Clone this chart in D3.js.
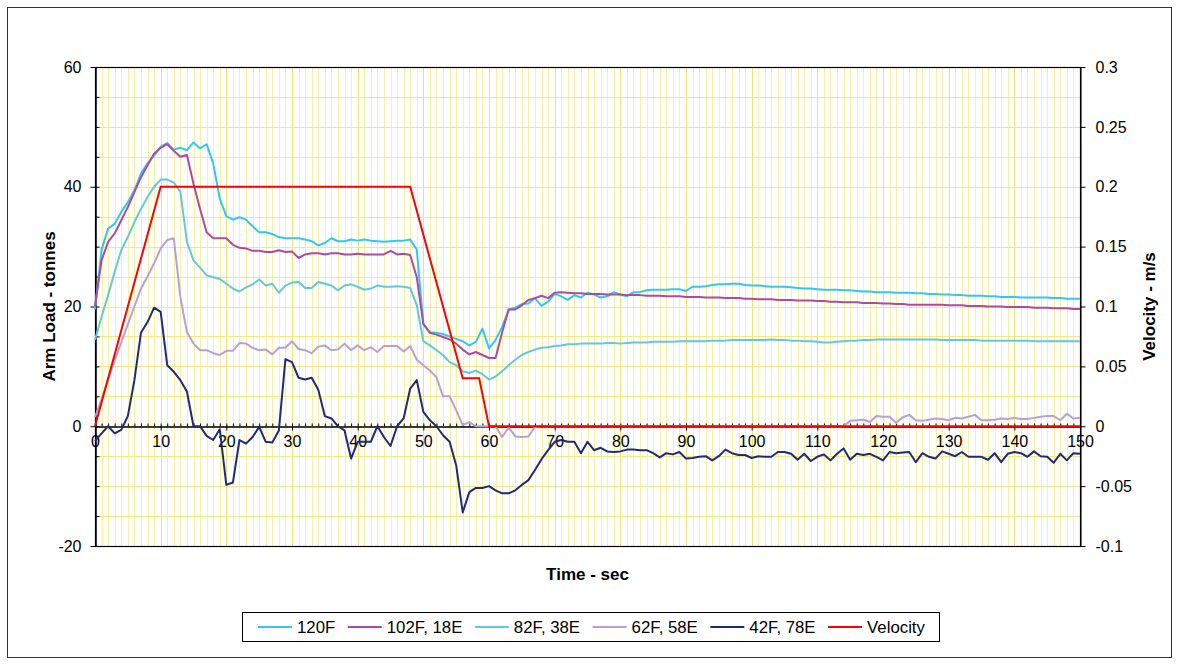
<!DOCTYPE html>
<html><head>
<meta charset="UTF-8">
<title>Arm Load and Velocity vs Time</title>
<style>
  body { margin: 0; padding: 0; background: #ffffff; }
  svg text { font-family: "Liberation Sans", Arial, sans-serif; fill: #000; }
</style>
</head>
<body>
<svg id="chart" width="1179" height="665"></svg>

<script src="https://cdn.jsdelivr.net/npm/d3@7/dist/d3.min.js"></script>
<script>
  // time axis, one sample per second
  const seconds = d3.range(0, 151);

  // arm load (tonnes), t = 0..150
  const load120F = [
    19.5, 29.5, 33.0, 33.8, 35.8, 37.4, 39.4, 42.2, 43.9, 45.2,
    46.7, 47.3, 46.2, 46.5, 46.1, 47.4, 46.4, 47.1, 43.9, 38.0,
    35.1, 34.5, 34.9, 34.5, 33.4, 32.4, 32.4, 32.1, 31.6, 31.4,
    31.4, 31.4, 31.2, 30.9, 30.2, 30.6, 31.4, 30.9, 30.9, 31.2,
    31.0, 31.2, 31.0, 30.9, 30.8, 30.9, 31.0, 31.0, 31.2, 29.5,
    17.1, 15.7, 15.6, 15.4, 15.0, 14.6, 14.2, 13.5, 14.1, 16.3,
    13.0, 14.4, 16.6, 19.5, 19.8, 20.4, 20.5, 21.4, 20.1, 20.8,
    22.1, 21.7, 21.1, 21.9, 21.5, 22.3, 22.0, 21.5, 21.7, 22.4,
    22.0, 21.7, 22.4, 22.4, 22.7, 22.8, 22.8, 22.8, 22.9, 22.9,
    22.6, 23.3, 23.3, 23.4, 23.6, 23.7, 23.7, 23.8, 23.8, 23.6,
    23.5, 23.5, 23.4, 23.3, 23.3, 23.3, 23.2, 23.1, 23.0, 23.0,
    22.9, 22.8, 22.8, 22.8, 22.7, 22.7, 22.6, 22.5, 22.5, 22.4,
    22.4, 22.4, 22.3, 22.3, 22.3, 22.2, 22.2, 22.1, 22.1, 22.0,
    22.0, 21.9, 21.9, 21.8, 21.8, 21.8, 21.7, 21.7, 21.6, 21.6,
    21.6, 21.5, 21.5, 21.5, 21.5, 21.5, 21.4, 21.4, 21.3, 21.3, 21.3
  ];
  const load102F = [
    20.0, 27.7, 30.8, 32.2, 34.4, 36.6, 39.1, 41.6, 43.6, 45.5,
    46.5, 47.1, 46.0, 45.0, 45.3, 40.5, 36.3, 32.4, 31.4, 31.4,
    31.4, 30.3, 29.8, 29.7, 29.3, 29.3, 29.1, 29.1, 29.4, 29.1,
    29.2, 28.1, 28.7, 28.9, 28.9, 28.7, 28.9, 28.9, 28.7, 28.7,
    28.8, 28.7, 28.7, 28.7, 28.7, 29.3, 28.7, 28.8, 28.6, 24.9,
    17.1, 15.6, 15.3, 14.9, 14.5, 13.8, 12.8, 12.0, 12.4, 11.9,
    11.4, 11.4, 15.7, 19.5, 19.5, 20.2, 21.1, 21.4, 21.8, 21.4,
    22.3, 22.4, 22.3, 22.2, 22.2, 22.1, 22.1, 22.1, 22.0, 22.0,
    22.0, 21.9, 21.9, 21.9, 21.8, 21.8, 21.8, 21.7, 21.7, 21.7,
    21.6, 21.6, 21.6, 21.5, 21.5, 21.5, 21.4, 21.4, 21.4, 21.3,
    21.3, 21.2, 21.2, 21.2, 21.1, 21.1, 21.1, 21.0, 21.0, 21.0,
    20.9, 20.9, 20.8, 20.8, 20.7, 20.7, 20.7, 20.6, 20.6, 20.6,
    20.5, 20.5, 20.4, 20.4, 20.3, 20.3, 20.3, 20.3, 20.3, 20.3,
    20.2, 20.2, 20.2, 20.1, 20.1, 20.1, 20.0, 20.0, 20.0, 19.9,
    19.9, 19.9, 19.9, 19.8, 19.8, 19.8, 19.7, 19.7, 19.7, 19.6, 19.6
  ];
  const load82F = [
    14.4, 18.3, 21.9, 25.8, 29.4, 31.6, 34.1, 36.3, 38.3, 40.0,
    41.2, 41.2, 40.7, 39.2, 30.8, 27.7, 26.5, 25.2, 24.9, 24.6,
    23.8, 23.0, 22.5, 23.2, 23.7, 24.5, 23.5, 23.8, 22.3, 23.5,
    24.0, 24.1, 23.1, 23.1, 24.1, 23.8, 23.5, 22.7, 23.5, 23.7,
    23.3, 22.8, 23.0, 23.5, 23.3, 23.3, 23.4, 23.3, 23.1, 20.2,
    14.2, 13.5, 12.7, 11.9, 10.7, 10.2, 9.2, 8.9, 9.3, 8.7,
    7.8, 8.3, 9.2, 10.2, 11.1, 11.9, 12.4, 12.8, 13.1, 13.2,
    13.4, 13.5, 13.7, 13.7, 13.8, 13.8, 13.8, 13.8, 13.9, 13.9,
    13.8, 13.9, 14.0, 14.0, 14.0, 14.1, 14.1, 14.1, 14.1, 14.2,
    14.2, 14.2, 14.2, 14.2, 14.3, 14.3, 14.3, 14.4, 14.4, 14.4,
    14.4, 14.4, 14.4, 14.5, 14.4, 14.4, 14.3, 14.3, 14.2, 14.2,
    14.1, 14.0, 14.0, 14.1, 14.2, 14.3, 14.3, 14.4, 14.4, 14.5,
    14.5, 14.5, 14.5, 14.5, 14.5, 14.5, 14.5, 14.5, 14.5, 14.4,
    14.4, 14.4, 14.4, 14.4, 14.4, 14.3, 14.3, 14.3, 14.3, 14.3,
    14.3, 14.3, 14.3, 14.2, 14.2, 14.2, 14.2, 14.2, 14.2, 14.2, 14.2
  ];
  const load62F = [
    1.5, 4.5, 7.8, 11.0, 14.0, 17.0, 20.0, 23.0, 25.0, 27.2,
    29.7, 31.1, 31.4, 21.6, 15.7, 13.8, 12.7, 12.7, 12.2, 11.9,
    12.6, 12.6, 13.9, 13.8, 13.1, 12.7, 12.8, 12.0, 13.1, 13.1,
    14.2, 12.9, 12.7, 12.2, 13.3, 13.5, 12.7, 12.8, 13.8, 12.7,
    13.5, 12.7, 13.2, 12.4, 13.4, 13.4, 13.4, 12.5, 13.4, 11.1,
    10.2, 9.3, 8.2, 5.0, 5.0, 2.7, 0.2, 0.7, 0, 0,
    0, 0, -1.8, -0.2, -1.7, -1.8, -1.7, -0.1, 0, 0,
    0, 0, 0, 0, 0, 0, 0, 0, 0, 0,
    0, 0, 0, 0, 0, 0, 0, 0, 0, 0,
    0, 0, 0, 0, 0, 0, 0, 0, 0, 0,
    0, 0, 0, 0, 0, 0, 0, 0, 0, 0,
    0, 0, 0, 0, 0, 0.9, 1.0, 1.1, 0.7, 1.7,
    1.6, 1.6, 0.6, 1.5, 1.9, 1.0, 0.9, 1.1, 1.3, 1.2,
    1.0, 1.4, 1.3, 1.6, 1.9, 1.0, 1.0, 1.1, 1.3, 1.2,
    1.4, 1.2, 1.2, 1.4, 1.6, 1.7, 1.7, 1.0, 2.1, 1.3, 1.4
  ];
  const load42F = [
    -2.5, -1.2, 0.0, -1.2, -0.6, 1.7, 7.7, 15.6, 17.4, 19.8,
    19.1, 10.2, 9.1, 7.7, 5.8, 0.0, 0.0, -1.6, -2.3, -0.5,
    -9.8, -9.4, -2.3, -2.9, -1.8, -0.1, -2.6, -2.7, -0.7, 11.2,
    10.7, 8.1, 7.8, 8.1, 6.1, 1.7, 1.3, 0.0, -0.7, -5.4,
    -2.6, -2.6, -2.6, 0.0, -1.8, -3.3, 0.0, 1.3, 6.3, 7.7,
    2.4, 1.0, 0.0, -1.5, -2.6, -6.5, -14.4, -11.0, -10.3, -10.3,
    -10.0, -10.7, -11.2, -11.2, -10.7, -9.8, -9.0, -7.3, -5.5, -4.0,
    -2.6, -2.3, -2.6, -2.6, -4.5, -2.6, -4.0, -3.6, -4.2, -4.3,
    -4.2, -3.9, -3.9, -4.0, -4.0, -4.5, -5.2, -4.5, -4.7, -4.3,
    -5.4, -5.3, -5.1, -5.0, -5.7, -5.0, -3.9, -4.5, -4.8, -4.8,
    -5.3, -5.0, -5.1, -5.1, -4.3, -4.3, -4.6, -5.6, -4.6, -5.8,
    -5.1, -4.7, -5.7, -4.6, -3.7, -5.6, -4.6, -4.8, -4.6, -5.1,
    -5.7, -4.3, -4.5, -4.4, -4.3, -6.0, -4.5, -5.1, -5.4, -4.2,
    -4.6, -5.0, -4.3, -5.1, -5.1, -5.1, -5.6, -4.5, -6.0, -4.6,
    -4.3, -4.5, -5.1, -4.2, -5.0, -5.1, -6.1, -4.6, -5.7, -4.5, -4.6
  ];

  // velocity (m/s) on the secondary axis
  const velTime = [0, 10, 48, 56, 58.5, 60, 150];
  const velocity = [0, 0.2, 0.2, 0.04, 0.04, 0, 0];

  const seriesNames = ["120F", "102F, 18E", "82F, 38E", "62F, 58E", "42F, 78E"];
  const seriesColors = ["#33c6f4", "#b04a9e", "#62c8dc", "#b7a0d6", "#1f2a78"];

  const loadTicks = [-20, 0, 20, 40, 60];
  const velTicks = [-0.1, -0.05, 0, 0.05, 0.1, 0.15, 0.2, 0.25, 0.3];
  const timeTicks = d3.range(0, 151, 10);

  const svg = d3.select("#chart");
  const plotLeft = 95, plotRight = 1080, plotTop = 67, plotBottom = 546;

  const x = d3.scaleLinear().domain([0, 150]).range([plotLeft, plotRight]);
  const yL = d3.scaleLinear().domain([-20, 60]).range([plotBottom, plotTop]);
  const yR = d3.scaleLinear().domain([-0.1, 0.3]).range([plotBottom, plotTop]);

  // outer chart frame
  svg.append("rect")
    .attr("x", 7.5).attr("y", 7.5)
    .attr("width", 1164).attr("height", 650)
    .attr("fill", "#fff").attr("stroke", "#333").attr("stroke-width", 1);

  // plot background + grid
  svg.append("rect")
    .attr("x", plotLeft).attr("y", plotTop)
    .attr("width", plotRight - plotLeft).attr("height", plotBottom - plotTop)
    .attr("fill", "#fff");

  const grid = svg.append("g");
  grid.selectAll(".vgrid")
    .data(d3.range(1, 150))
    .enter().append("line")
    .attr("x1", d => Math.round(x(d)) + 0.5)
    .attr("x2", d => Math.round(x(d)) + 0.5)
    .attr("y1", plotTop).attr("y2", plotBottom)
    .attr("stroke", d => d % 10 === 0 ? "#efe274" : "#f7f1a2")
    .attr("stroke-width", 1);

  grid.selectAll(".hgrid")
    .data(d3.range(-15, 60, 5))
    .enter().append("line")
    .attr("x1", plotLeft).attr("x2", plotRight)
    .attr("y1", d => Math.round(yL(d)) + 0.5)
    .attr("y2", d => Math.round(yL(d)) + 0.5)
    .attr("stroke", "#f1e884")
    .attr("stroke-width", 1);

  svg.append("rect")
    .attr("x", plotLeft + 0.5).attr("y", plotTop + 0.5)
    .attr("width", plotRight - plotLeft).attr("height", plotBottom - plotTop)
    .attr("fill", "none").attr("stroke", "#000").attr("stroke-width", 1.2);

  // left axis
  svg.append("g")
    .attr("transform", `translate(${plotLeft + 0.5},0)`)
    .call(d3.axisLeft(yL).tickValues(loadTicks).tickSize(5).tickSizeOuter(0)
      .tickPadding(9).tickFormat(d => String(d)));
  svg.append("g")
    .attr("transform", `translate(${plotLeft + 0.5},0)`)
    .call(d3.axisRight(yL).tickValues(d3.range(-20, 61, 5)).tickSize(4)
      .tickSizeOuter(0).tickFormat(""));

  // right axis
  svg.append("g")
    .attr("transform", `translate(${plotRight + 0.5},0)`)
    .call(d3.axisRight(yR).tickValues(velTicks).tickSize(5).tickSizeOuter(0)
      .tickPadding(10).tickFormat(d => String(d)));

  // time axis crossing at zero load
  const y0 = Math.round(yL(0)) + 0.5;
  svg.append("g")
    .attr("transform", `translate(0,${y0})`)
    .call(d3.axisTop(x).tickValues(d3.range(0, 151)).tickSize(3)
      .tickSizeOuter(0).tickFormat(""));
  svg.append("g")
    .attr("transform", `translate(0,${y0})`)
    .call(d3.axisBottom(x).tickValues(timeTicks).tickSize(4)
      .tickSizeOuter(0).tickPadding(5).tickFormat(d => String(d)));

  svg.selectAll(".domain").attr("stroke", "#000");
  svg.selectAll(".tick line").attr("stroke", "#000");
  svg.selectAll(".tick text").style("font-size", "16px").attr("fill", "#000");

  // series
  const line = d3.line()
    .x((d, i) => x(seconds[i]))
    .y(d => yL(d));

  const loads = [load120F, load102F, load82F, load62F, load42F];
  const plot = svg.append("g");
  loads.forEach((vals, i) => {
    plot.append("path")
      .datum(vals)
      .attr("fill", "none")
      .attr("stroke", seriesColors[i])
      .attr("stroke-width", 2)
      .attr("stroke-linejoin", "round")
      .attr("d", line);
  });

  const velLine = d3.line()
    .x((d, i) => x(velTime[i]))
    .y(d => yR(d));
  plot.append("path")
    .datum(velocity)
    .attr("fill", "none")
    .attr("stroke", "#ff0000")
    .attr("stroke-width", 2)
    .attr("d", velLine);

  // axis titles
  svg.append("text")
    .attr("x", (plotLeft + plotRight) / 2).attr("y", 580)
    .attr("text-anchor", "middle")
    .style("font-size", "17px").style("font-weight", "bold")
    .text("Time - sec");

  svg.append("text")
    .attr("transform", `translate(55,${(plotTop + plotBottom) / 2}) rotate(-90)`)
    .attr("text-anchor", "middle")
    .style("font-size", "17px").style("font-weight", "bold")
    .text("Arm Load - tonnes");

  svg.append("text")
    .attr("transform", `translate(1155,${(plotTop + plotBottom) / 2}) rotate(-90)`)
    .attr("text-anchor", "middle")
    .style("font-size", "17px").style("font-weight", "bold")
    .text("Velocity - m/s");

  // legend
  const legendNames = seriesNames.concat(["Velocity"]);
  const legendColors = seriesColors.concat(["#ff0000"]);
  const legend = svg.append("g");
  legend.append("rect")
    .attr("x", 242.5).attr("y", 612.5)
    .attr("width", 697).attr("height", 29)
    .attr("fill", "#fff").attr("stroke", "#000").attr("stroke-width", 1);

  let lx = 258;
  legendNames.forEach((name, i) => {
    legend.append("line")
      .attr("x1", lx).attr("x2", lx + 34)
      .attr("y1", 627).attr("y2", 627)
      .attr("stroke", legendColors[i]).attr("stroke-width", 2);
    const t = legend.append("text")
      .attr("x", lx + 39).attr("y", 633)
      .style("font-size", "16.8px")
      .text(name);
    lx += 39 + t.node().getComputedTextLength() + 12.5;
  });
</script>
</body></html>
